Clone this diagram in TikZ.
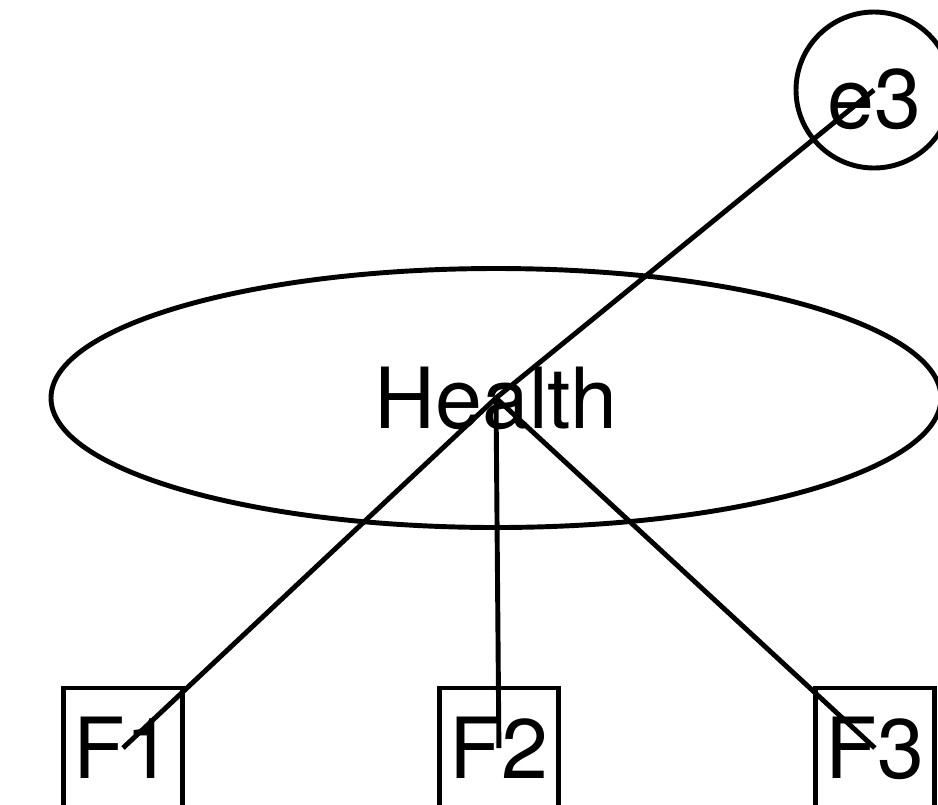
\documentclass[tikz,border=0pt]{standalone}
\usepackage{fontspec}
\setmainfont{TeX Gyre Heros}
\usetikzlibrary{shapes.geometric,positioning}

\begin{document}
\begin{tikzpicture}[
  latent/.style={ellipse,draw,line width=1.4pt,minimum width=8.9cm,minimum height=2.59cm,
                 font=\fontsize{24}{28}\selectfont},
  errvar/.style={circle,draw,line width=1.4pt,minimum size=1.56cm,inner sep=0pt,
                 text height=0.76cm,text depth=0pt,font=\fontsize{24}{28}\selectfont},
  manifest/.style={rectangle,draw,line width=1.4pt,minimum width=1.19cm,minimum height=1.2cm,
                   inner sep=0pt,font=\fontsize{24}{28}\selectfont},
  link/.style={line width=1.4pt}
]
  \useasboundingbox (0,0) rectangle (9.38,8.04);
  \node[latent] (health) at (4.96,4.06) {Health};
  \node[errvar] (e3) at (8.74,7.14) {e3};
  \node[manifest] (f1) at (1.23,0.56) {F1};
  \node[manifest,right=2.52cm of f1] (f2) {F2};
  \node[manifest,right=2.52cm of f2] (f3) {F3};
  \draw[link] (health.center) -- (e3.center);
  \draw[link] (health.center) -- (f1.center);
  \draw[link] (health.center) -- (f2.center);
  \draw[link] (health.center) -- (f3.center);
\end{tikzpicture}
\end{document}
